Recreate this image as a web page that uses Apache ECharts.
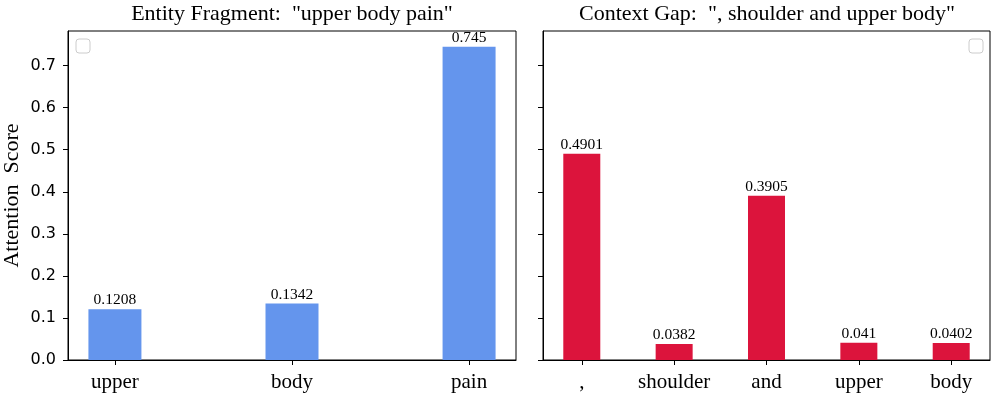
<!DOCTYPE html>
<html>
<head>
<meta charset="utf-8">
<script src="https://cdn.jsdelivr.net/npm/echarts@6/dist/echarts.min.js"></script>
<style>
  html, body { margin: 0; padding: 0; background: #fff; }
  #chart { width: 997px; height: 396px; }
</style>
</head>
<body>
<div id="chart"></div>
<script>
// left panel: entity fragment
const entityTokens = ['upper', 'body', 'pain'];
const entityScores = [0.1208, 0.1342, 0.745];
// right panel: context gap
const gapTokens = [',', 'shoulder', 'and', 'upper', 'body'];
const gapScores = [0.4901, 0.0382, 0.3905, 0.041, 0.0402];
const yTicks = [0, 0.1, 0.2, 0.3, 0.4, 0.5, 0.6, 0.7];

const serif = 'Liberation Serif';
const sans = 'DejaVu Sans';

function xAxisFor(idx, tokens, pad) {
    const pos = tokens.map((t, i) => i);
    return {
        type: 'value',
        gridIndex: idx,
        min: -pad,
        max: tokens.length - 1 + pad,
        splitLine: { show: false },
        axisLine: { show: true, onZero: false, lineStyle: { color: '#000', width: 1 } },
        axisTick: { show: true, customValues: pos, length: 5, lineStyle: { color: '#000', width: 1 } },
        axisLabel: {
            customValues: pos,
            formatter: v => tokens[Math.round(v)],
            fontFamily: serif, fontSize: 21, color: '#000', margin: 12
        }
    };
}

function yAxisFor(idx, showLabels) {
    return {
        type: 'value',
        gridIndex: idx,
        min: 0,
        max: 0.78225,
        interval: 0.1,
        name: showLabels ? 'Attention  Score' : '',
        nameLocation: 'middle',
        nameGap: 45,
        nameTextStyle: { fontFamily: serif, fontSize: 22, color: '#000' },
        splitLine: { show: false },
        axisLine: { show: true, onZero: false, lineStyle: { color: '#000', width: 1 } },
        axisTick: { show: true, customValues: yTicks, length: 5, lineStyle: { color: '#000', width: 1 } },
        axisLabel: {
            show: showLabels,
            customValues: yTicks,
            formatter: v => v.toFixed(1),
            fontFamily: sans, fontSize: 16, color: '#000', margin: 12
        }
    };
}

function barSeries(idx, scores, color, width) {
    return {
        type: 'bar',
        xAxisIndex: idx,
        yAxisIndex: idx,
        barWidth: width,
        data: scores.map((v, i) => [i, v]),
        itemStyle: { color: color },
        label: {
            show: true,
            position: 'top',
            distance: 1,
            formatter: p => String(p.value[1]),
            fontFamily: serif, fontSize: 15.5, color: '#000'
        },
        silent: true
    };
}

const chart = echarts.init(document.getElementById('chart'), null, { renderer: 'canvas' });

const option = {
    animation: false,
    backgroundColor: '#fff',
    grid: [
        { left: 68, right: 481, top: 31, bottom: 36, outerBoundsMode: 'none', show: true, borderColor: '#000', borderWidth: 1 },
        { left: 543, right: 7, top: 31, bottom: 36, outerBoundsMode: 'none', show: true, borderColor: '#000', borderWidth: 1 }
    ],
    xAxis: [
        xAxisFor(0, entityTokens, 0.265),
        xAxisFor(1, gapTokens, 0.42)
    ],
    yAxis: [
        yAxisFor(0, true),
        yAxisFor(1, false)
    ],
    series: [
        barSeries(0, entityScores, '#6495ED', 53),
        barSeries(1, gapScores, '#DC143C', 37)
    ],
    graphic: [
        {
            type: 'text', x: 292, y: 14,
            style: { text: 'Entity Fragment:  "upper body pain"', font: '22px "Liberation Serif"', fill: '#000', textAlign: 'center', textVerticalAlign: 'middle' }
        },
        {
            type: 'text', x: 767, y: 14,
            style: { text: 'Context Gap:  ", shoulder and upper body"', font: '22px "Liberation Serif"', fill: '#000', textAlign: 'center', textVerticalAlign: 'middle' }
        },
        // empty legend boxes
        { type: 'rect', x: 76, y: 39, shape: { width: 14, height: 14, r: 3 }, style: { fill: '#fff', stroke: '#ccc', lineWidth: 1 } },
        { type: 'rect', x: 969, y: 39, shape: { width: 14, height: 14, r: 3 }, style: { fill: '#fff', stroke: '#ccc', lineWidth: 1 } }
    ]
};

chart.setOption(option);
</script>
</body>
</html>
